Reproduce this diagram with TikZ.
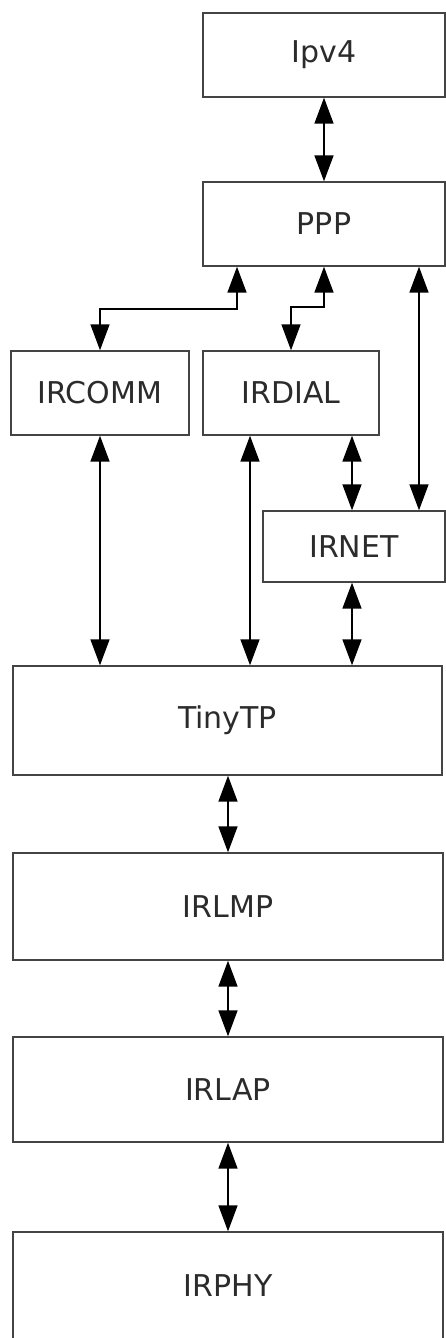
\documentclass[tikz,border=0pt]{standalone}
\usepackage{fontspec}
\setmainfont{DejaVu Sans}
\usetikzlibrary{arrows.meta}
\definecolor{boxline}{HTML}{444444}
\definecolor{txt}{HTML}{2B2B2B}
\begin{document}
\begin{tikzpicture}[x=1pt,y=-1pt,
  layer/.style={draw=boxline,line width=1.4pt,rectangle,inner sep=0pt,
    text=txt,font=\fontsize{30}{36}\selectfont},
  biarrow/.style={line width=1.6pt,draw=black,
    {Triangle[length=26pt,width=19pt]}-{Triangle[length=26pt,width=19pt]}}]
\clip (0,0) rectangle (446,1338);
\fill[white] (0,0) rectangle (446,1338);
% boxes
\node[layer,minimum width=242pt,minimum height=84pt] (ipv4) at (324,55) {Ipv4};
\node[layer,minimum width=242pt,minimum height=84pt] (ppp) at (324,224) {PPP};
\node[layer,minimum width=178pt,minimum height=84pt] (ircomm) at (100,393) {IRCOMM};
\node[layer,minimum width=176pt,minimum height=84pt] (irdial) at (291,393) {IRDIAL};
\node[layer,minimum width=182pt,minimum height=71pt] (irnet) at (354,546.5) {IRNET};
\node[layer,minimum width=429pt,minimum height=109pt] (tinytp) at (227.5,720.5) {TinyTP};
\node[layer,minimum width=430pt,minimum height=107pt] (irlmp) at (228,906.5) {IRLMP};
\node[layer,minimum width=430pt,minimum height=105pt] (irlap) at (228,1089.5) {IRLAP};
\node[layer,minimum width=430pt,minimum height=107pt] (irphy) at (228,1285.5) {IRPHY};
% x positions of connectors
\coordinate (xa) at (237,0);
\coordinate (xb) at (324,0);
\coordinate (xc) at (419,0);
\coordinate (xd) at (352,0);
\coordinate (xe) at (250,0);
\coordinate (xf) at (228,0);
% connectors
\draw[biarrow] (ipv4.south) -- (ppp.north);
\draw[biarrow] (ppp.south -| xa) -- ++(0,42) -| (ircomm.north);
\draw[biarrow] (ppp.south -| xb) -- ++(0,40) -| (irdial.north);
\draw[biarrow] (ppp.south -| xc) -- (irnet.north -| xc);
\draw[biarrow] (irdial.south -| xd) -- (irnet.north -| xd);
\draw[biarrow] (ircomm.south) -- (tinytp.north -| ircomm.south);
\draw[biarrow] (irdial.south -| xe) -- (tinytp.north -| xe);
\draw[biarrow] (irnet.south -| xd) -- (tinytp.north -| xd);
\draw[biarrow] (tinytp.south -| xf) -- (irlmp.north -| xf);
\draw[biarrow] (irlmp.south -| xf) -- (irlap.north -| xf);
\draw[biarrow] (irlap.south -| xf) -- (irphy.north -| xf);
\end{tikzpicture}
\end{document}
